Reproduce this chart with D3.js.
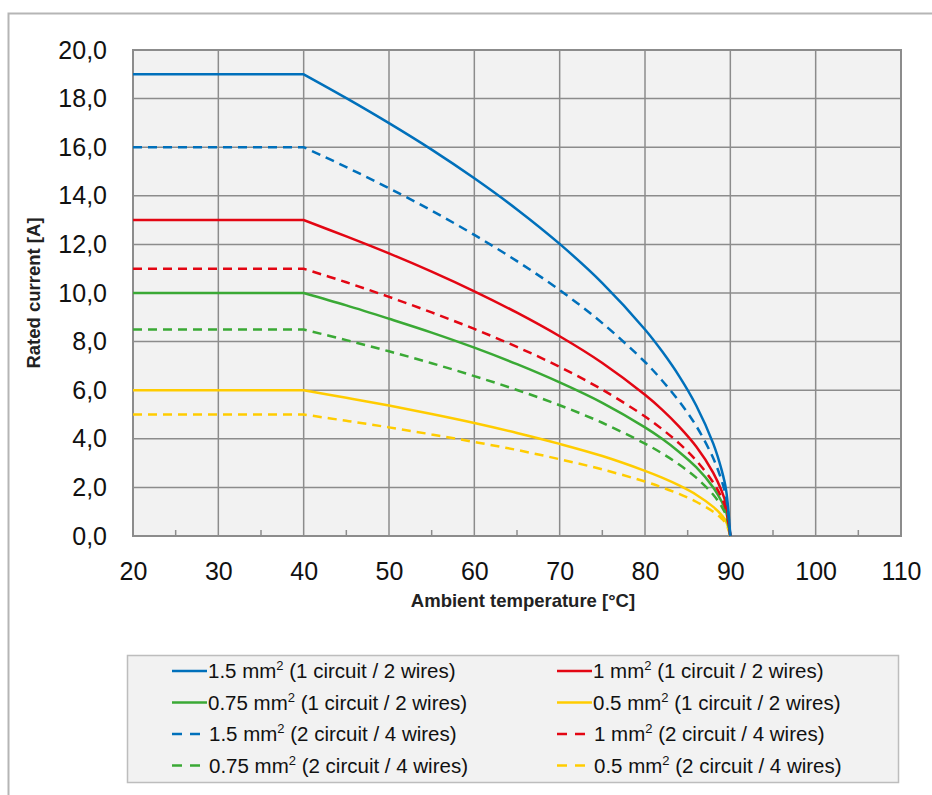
<!DOCTYPE html>
<html><head><meta charset="utf-8">
<script src="https://cdn.jsdelivr.net/npm/d3@7"></script>
<style>body{margin:0;background:#fff;font-family:"Liberation Sans",Arial,sans-serif}</style>
</head><body><svg id="c" width="932" height="795"></svg>
<script>
const temps = [20, 40, 45, 50, 55, 60, 65, 70, 75, 80, 82, 84, 86, 88, 89, 89.5, 90];
const blue1 = [19, 19, 18.02, 16.99, 15.90, 14.72, 13.44, 12.02, 10.41, 8.50, 7.60, 6.58, 5.37, 3.80, 2.69, 1.90, 0];
const red1 = [13, 13, 12.33, 11.63, 10.88, 10.07, 9.19, 8.22, 7.12, 5.81, 5.20, 4.50, 3.68, 2.60, 1.84, 1.30, 0];
const green1 = [10, 10, 9.49, 8.94, 8.37, 7.75, 7.07, 6.32, 5.48, 4.47, 4.00, 3.46, 2.83, 2.00, 1.41, 1.00, 0];
const yellow1 = [6, 6, 5.69, 5.37, 5.02, 4.65, 4.24, 3.79, 3.29, 2.68, 2.40, 2.08, 1.70, 1.20, 0.85, 0.60, 0];
const blue2 = [16, 16, 15.18, 14.31, 13.39, 12.39, 11.31, 10.12, 8.76, 7.16, 6.40, 5.54, 4.53, 3.20, 2.26, 1.60, 0];
const red2 = [11, 11, 10.44, 9.84, 9.20, 8.52, 7.78, 6.96, 6.02, 4.92, 4.40, 3.81, 3.11, 2.20, 1.56, 1.10, 0];
const green2 = [8.5, 8.5, 8.06, 7.60, 7.11, 6.58, 6.01, 5.38, 4.66, 3.80, 3.40, 2.94, 2.40, 1.70, 1.20, 0.85, 0];
const yellow2 = [5, 5, 4.74, 4.47, 4.18, 3.87, 3.54, 3.16, 2.74, 2.24, 2.00, 1.73, 1.41, 1.00, 0.71, 0.50, 0];
const xTicks = [20, 30, 40, 50, 60, 70, 80, 90, 100, 110];
const yTicks = [0, 2, 4, 6, 8, 10, 12, 14, 16, 18, 20];
const series = [
  {name: "1.5 mm", rest: " (1 circuit / 2 wires)", values: blue1, color: "#0070bb", dashed: false},
  {name: "1 mm", rest: " (1 circuit / 2 wires)", values: red1, color: "#e30613", dashed: false},
  {name: "0.75 mm", rest: " (1 circuit / 2 wires)", values: green1, color: "#3aa935", dashed: false},
  {name: "0.5 mm", rest: " (1 circuit / 2 wires)", values: yellow1, color: "#ffcc00", dashed: false},
  {name: "1.5 mm", rest: " (2 circuit / 4 wires)", values: blue2, color: "#0070bb", dashed: true},
  {name: "1 mm", rest: " (2 circuit / 4 wires)", values: red2, color: "#e30613", dashed: true},
  {name: "0.75 mm", rest: " (2 circuit / 4 wires)", values: green2, color: "#3aa935", dashed: true},
  {name: "0.5 mm", rest: " (2 circuit / 4 wires)", values: yellow2, color: "#ffcc00", dashed: true}
];

const FONT = "Liberation Sans, Arial, sans-serif";
const svg = d3.select("#c");
// outer frame
svg.append("rect").attr("x", 8.5).attr("y", 13.5).attr("width", 1000).attr("height", 1000)
  .attr("fill", "none").attr("stroke", "#b5b5b5").attr("stroke-width", 2);

const L = 133, R = 901, T = 50, B = 536;
const x = d3.scaleLinear().domain([20, 110]).range([L, R]);
const y = d3.scaleLinear().domain([0, 20]).range([B, T]);

svg.append("rect").attr("x", L).attr("y", T).attr("width", R - L).attr("height", B - T).attr("fill", "#f2f2f2");

// grid
const g = svg.append("g");
g.selectAll(".hg").data(yTicks).join("line")
  .attr("x1", L).attr("x2", R).attr("y1", d => y(d)).attr("y2", d => y(d))
  .attr("stroke", "#8c8c8c").attr("stroke-width", 1.5);
g.selectAll(".vg").data(xTicks).join("line")
  .attr("y1", T).attr("y2", B).attr("x1", d => x(d)).attr("x2", d => x(d))
  .attr("stroke", "#8c8c8c").attr("stroke-width", 1.5);
const minor = d3.range(25, 110, 10);
g.selectAll(".mt").data(minor).join("line")
  .attr("x1", d => x(d)).attr("x2", d => x(d)).attr("y1", B).attr("y2", B - 6)
  .attr("stroke", "#8c8c8c").attr("stroke-width", 1.5);
svg.append("rect").attr("x", L).attr("y", T).attr("width", R - L).attr("height", B - T)
  .attr("fill", "none").attr("stroke", "#8c8c8c").attr("stroke-width", 2);

const xAxis = svg.append("g").attr("transform", `translate(0,${B})`)
  .call(d3.axisBottom(x).tickValues(xTicks).tickSize(0).tickPadding(26).tickFormat(d3.format("d")));
xAxis.select(".domain").remove();
xAxis.selectAll("text").attr("font-size", 25).attr("fill", "#111").attr("font-family", FONT);
const yAxis = svg.append("g").attr("transform", `translate(${L},0)`)
  .call(d3.axisLeft(y).tickValues(yTicks).tickSize(0).tickPadding(26).tickFormat(d => d.toFixed(1).replace(".", ",")));
yAxis.select(".domain").remove();
yAxis.selectAll("text").attr("font-size", 25).attr("fill", "#111").attr("font-family", FONT);

svg.append("text").attr("x", (x(20) + x(110)) / 2 + 6).attr("y", 607).attr("text-anchor", "middle")
  .attr("font-size", 18.5).attr("font-weight", "bold").attr("fill", "#222").text("Ambient temperature [°C]");
svg.append("text").attr("transform", `translate(40,${(T + B) / 2}) rotate(-90)`).attr("text-anchor", "middle")
  .attr("font-size", 18.5).attr("font-weight", "bold").attr("fill", "#222").text("Rated current [A]");

// lines: flat part straight, derating part smooth
const flat = d3.line().x(d => x(d[0])).y(d => y(d[1]));
const curve = d3.line().x(d => x(d[0])).y(d => y(d[1])).curve(d3.curveCatmullRom.alpha(0.5));
const drawOrder = [3, 7, 2, 6, 1, 5, 0, 4];
drawOrder.forEach(k => {
  const s = series[k];
  const pts = temps.map((t, i) => [t, s.values[i]]);
  const d = flat(pts.slice(0, 2)) + curve(pts.slice(1)).replace(/^M[^C]*/, m => "L" + m.slice(1));
  svg.append("path").attr("d", d).attr("fill", "none")
    .attr("stroke", s.color).attr("stroke-width", 2.5).attr("stroke-linejoin", "miter")
    .attr("stroke-dasharray", s.dashed ? "9,6" : null);
});

// legend
svg.append("rect").attr("x", 127.5).attr("y", 655.5).attr("width", 771).attr("height", 127)
  .attr("fill", "#f2f2f2").attr("stroke", "#bdbdbd").attr("stroke-width", 1.5);
series.forEach((s, i) => {
  const col = i % 2, row = Math.floor(i / 2);
  const lx = col === 0 ? 172 : 557;
  const ly = 671 + row * 31.5;
  if (s.dashed) {
    svg.append("line").attr("x1", lx).attr("x2", lx + 10).attr("y1", ly).attr("y2", ly)
      .attr("stroke", s.color).attr("stroke-width", 2.5);
    svg.append("line").attr("x1", lx + 18).attr("x2", lx + 28).attr("y1", ly).attr("y2", ly)
      .attr("stroke", s.color).attr("stroke-width", 2.5);
  } else {
    svg.append("line").attr("x1", lx).attr("x2", lx + 35).attr("y1", ly).attr("y2", ly)
      .attr("stroke", s.color).attr("stroke-width", 2.5);
  }
  const t = svg.append("text").attr("x", lx + (s.dashed ? 37 : 36)).attr("y", ly + 7)
    .attr("font-size", 20.5).attr("fill", "#111").attr("font-family", FONT);
  t.append("tspan").text(s.name);
  t.append("tspan").attr("dy", -8).attr("font-size", 13).text("2");
  t.append("tspan").attr("dy", 8).text(s.rest);
});
</script></body></html>
